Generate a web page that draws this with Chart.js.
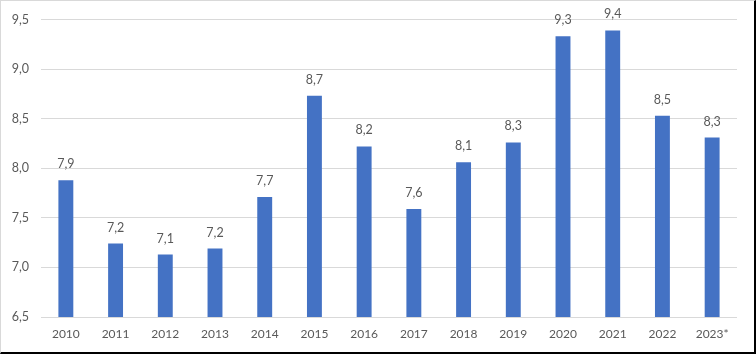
<!DOCTYPE html>
<html>
<head>
<meta charset="utf-8">
<script src="https://cdn.jsdelivr.net/npm/chart.js@4/dist/chart.umd.min.js"></script>
<style>
  html, body { margin: 0; padding: 0; background: #fff; }
  #wrap { position: relative; width: 756px; height: 354px; overflow: hidden; }
  #c { position: absolute; left: 0; top: 0; }
  #frame { position: absolute; left: 0; top: 0; width: 756px; height: 354px; box-sizing: border-box;
           border-top: 1px solid #d9d9d9; border-left: 1px solid #d9d9d9;
           border-right: 2px solid #000; border-bottom: 2px solid #000; pointer-events: none; }
</style>
</head>
<body>
<div id="wrap">
  <canvas id="c" width="756" height="354"></canvas>
  <div id="frame"></div>
</div>
<script>
const categories = ["2010","2011","2012","2013","2014","2015","2016","2017","2018","2019","2020","2021","2022","2023*"];
const values = [7.88, 7.24, 7.13, 7.19, 7.71, 8.73, 8.22, 7.59, 8.06, 8.26, 9.33, 9.39, 8.53, 8.31];
const yMin = 6.5, yMax = 9.5, yStep = 0.5;

const fmt = (v, d) => Number(v).toFixed(d).replace('.', ',');
const FONT = "Lato, 'Open Sans', sans-serif";
const TEXT = '#595959';

const labelPlugin = {
  id: 'valueLabels',
  afterDatasetsDraw(chart) {
    const ctx = chart.ctx;
    const meta = chart.getDatasetMeta(0);
    ctx.save();
    ctx.font = '12.5px ' + FONT;
    ctx.fillStyle = TEXT;
    ctx.textAlign = 'center';
    ctx.textBaseline = 'alphabetic';
    meta.data.forEach((bar, i) => {
      ctx.fillText(fmt(values[i], 1), bar.x, bar.y - 12);
    });
    ctx.restore();
  }
};

new Chart(document.getElementById('c'), {
  type: 'bar',
  data: {
    labels: categories,
    datasets: [{
      data: values,
      backgroundColor: '#4472C4',
      borderWidth: 0,
      categoryPercentage: 1.0,
      barPercentage: 0.30
    }]
  },
  options: {
    responsive: false,
    animation: false,
    layout: { padding: { left: 0, right: 19, top: 17, bottom: 0 } },
    plugins: { legend: { display: false }, tooltip: { enabled: false } },
    scales: {
      x: {
        grid: { display: false, drawTicks: false },
        border: { display: false },
        ticks: { color: TEXT, font: { family: FONT, size: 12 }, padding: 10, maxRotation: 0, autoSkip: false },
        afterFit(s) { s.height = 37; }
      },
      y: {
        min: yMin, max: yMax,
        grid: { color: '#d9d9d9', drawTicks: false, lineWidth: 1 },
        border: { display: false },
        ticks: { stepSize: yStep, color: TEXT, font: { family: FONT, size: 12.5 }, padding: 12,
                 callback: (v) => fmt(v, 1) },
        afterFit(s) { s.width = 41; }
      }
    }
  },
  plugins: [labelPlugin]
});
</script>
</body>
</html>
